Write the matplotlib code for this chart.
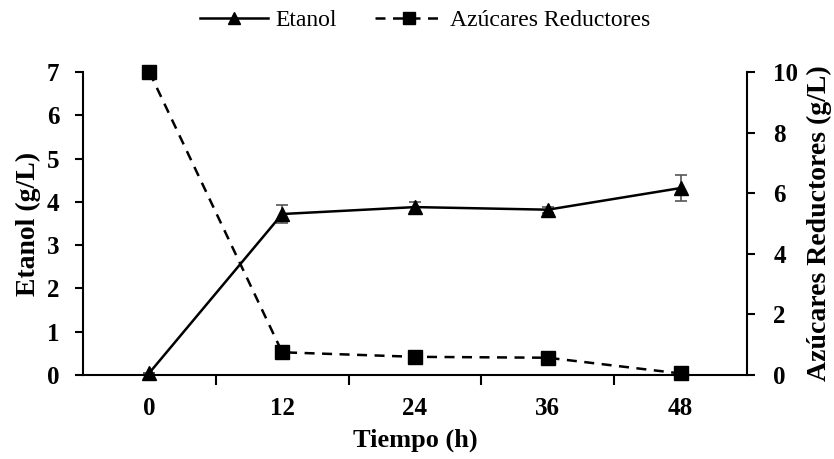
import matplotlib
matplotlib.use("Agg")
import matplotlib.pyplot as plt
from matplotlib.lines import Line2D
import numpy as np

tiempo = ["0", "12", "24", "36", "48"]
etanol = [0.05, 3.72, 3.88, 3.82, 4.32]
etanol_err = [0.0, 0.20, 0.12, 0.07, 0.29]
azucares = [10.0, 0.75, 0.60, 0.57, 0.05]

plt.rcParams['font.family'] = ['Liberation Serif', 'DejaVu Serif']

fig = plt.figure(figsize=(8.34, 4.59), dpi=100)
ax = fig.add_axes([0.0995, 0.183, 0.7962, 0.66])
ax2 = ax.twinx()

x = np.arange(len(tiempo))

ax.errorbar(x, etanol, yerr=etanol_err, fmt='none', ecolor='#555555',
            elinewidth=1.2, capsize=4, capthick=1.2, zorder=2)
ax.plot(x, etanol, color='black', lw=1.8, marker='^', ms=10, zorder=3, clip_on=False)
ax2.plot(x, azucares, color='black', lw=1.8, ls=(0, (4, 3)), marker='s', ms=9.5,
         zorder=3, clip_on=False)

ax.set_xlim(-0.5, 4.5)
ax.set_ylim(0, 7)
ax2.set_ylim(0, 10)
ax.set_yticks(range(0, 8))
ax2.set_yticks(range(0, 11, 2))

ax.set_xticks(x)
ax.set_xticklabels(tiempo)
ax.set_xticks(np.arange(0.5, 4.5, 1), minor=True)
ax.tick_params(axis='x', which='major', length=0, pad=16)
ax.tick_params(axis='x', which='minor', length=7, width=1.5, direction='out')
ax.tick_params(axis='y', length=6, width=1.5, direction='out', pad=11)
ax2.tick_params(axis='y', length=6, width=1.5, direction='out', pad=13)

for a in (ax, ax2):
    a.spines['top'].set_visible(False)
    for s in ('left', 'right', 'bottom'):
        a.spines[s].set_linewidth(1.5)
    for lab in a.get_xticklabels() + a.get_yticklabels():
        lab.set_fontsize(18)
        lab.set_fontweight('bold')
ax.spines['right'].set_visible(False)
ax2.spines['left'].set_visible(False)
ax2.spines['bottom'].set_visible(False)

ax.set_xlabel('Tiempo (h)', fontsize=19, fontweight='bold', labelpad=6)
ax.set_ylabel('Etanol (g/L)', fontsize=20, fontweight='bold', labelpad=4)
ax2.set_ylabel('Azúcares Reductores (g/L)', fontsize=20, fontweight='bold', labelpad=6)

h1 = Line2D([], [], color='black', lw=1.8, marker='^', ms=8)
h2 = Line2D([], [], color='black', lw=1.8, ls=(0, (4, 3)), marker='s', ms=8)
fig.legend([h1, h2], ['Etanol', 'Azúcares Reductores'], loc='center',
           bbox_to_anchor=(0.51, 0.955), ncol=2, frameon=False, fontsize=17,
           handlelength=2.9, columnspacing=1.6, handletextpad=0.3)

fig.savefig('out.png', dpi=100)
